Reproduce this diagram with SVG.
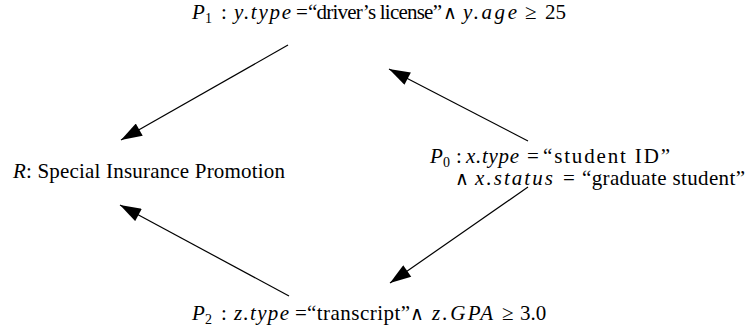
<svg xmlns="http://www.w3.org/2000/svg" width="754" height="332" viewBox="0 0 754 332">
<defs>
<style>
text{font-family:"Liberation Serif","Times New Roman",serif;font-size:21px;fill:#000}
.i{font-style:italic}
.s{font-size:14px}
.w{font-family:"DejaVu Serif","DejaVu Sans",serif;font-size:19px}
line{stroke:#000;stroke-width:1.2}
</style>
<marker id="ah" viewBox="0 0 12 8" refX="12" refY="4" markerWidth="22" markerHeight="14" markerUnits="userSpaceOnUse" orient="auto">
<path d="M0,0 L12,4 L0,8 z" fill="#000"/>
</marker>
</defs>
<rect width="754" height="332" fill="#fff"/>
<g id="connectors">
<line x1="288" y1="45" x2="121" y2="140" marker-end="url(#ah)"/>
<line x1="528" y1="141" x2="389" y2="69" marker-end="url(#ah)"/>
<line x1="289" y1="296" x2="120" y2="205" marker-end="url(#ah)"/>
<line x1="528" y1="187" x2="390" y2="283" marker-end="url(#ah)"/>
</g>
<g id="P1">
<text y="19"><tspan class="i" x="192">P</tspan><tspan class="s" x="205" dy="4">1</tspan><tspan x="221" dy="-4">:</tspan><tspan class="i" x="234" textLength="57" lengthAdjust="spacing">y.type</tspan><tspan x="296">=</tspan><tspan x="308" textLength="134" lengthAdjust="spacing">“driver’s license”</tspan><tspan class="w" x="443">∧</tspan><tspan class="i" x="463" textLength="54" lengthAdjust="spacing">y.age</tspan><tspan x="525">≥</tspan><tspan x="545">25</tspan></text>
</g>
<g id="R">
<text x="13" y="178" textLength="272" lengthAdjust="spacing"><tspan class="i">R</tspan>: Special Insurance Promotion</text>
</g>
<g id="P0">
<text y="163"><tspan class="i" x="430">P</tspan><tspan class="s" x="443" dy="4">0</tspan><tspan x="456" dy="-4">:</tspan><tspan class="i" x="466" textLength="53" lengthAdjust="spacing">x.type</tspan><tspan x="527">=</tspan><tspan x="543" textLength="127" lengthAdjust="spacing">“student ID”</tspan></text>
<text y="185"><tspan class="w" x="455">∧</tspan><tspan class="i" x="475" textLength="78" lengthAdjust="spacing">x.status</tspan><tspan x="563">=</tspan><tspan x="582" textLength="163" lengthAdjust="spacing">“graduate student”</tspan></text>
</g>
<g id="P2">
<text y="320"><tspan class="i" x="192">P</tspan><tspan class="s" x="205" dy="4">2</tspan><tspan x="221" dy="-4">:</tspan><tspan class="i" x="234" textLength="55" lengthAdjust="spacing">z.type</tspan><tspan x="295">=</tspan><tspan x="307" textLength="103" lengthAdjust="spacing">“transcript”</tspan><tspan class="w" x="410">∧</tspan><tspan class="i" x="432" textLength="61" lengthAdjust="spacing">z.GPA</tspan><tspan x="502">≥</tspan><tspan x="520">3.0</tspan></text>
</g>
</svg>
